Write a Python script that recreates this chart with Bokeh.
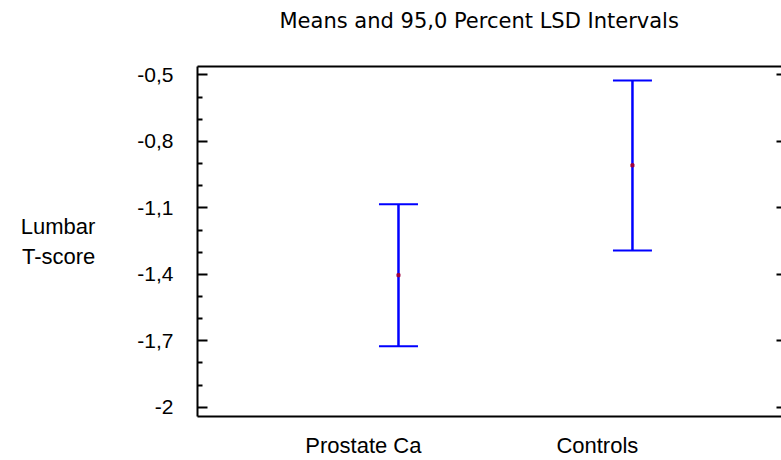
from bokeh.plotting import figure
from bokeh.models import (Whisker, TeeHead, ColumnDataSource, FixedTicker,
                          CustomJSTickFormatter, LinearAxis, Range1d)
from bokeh.embed import file_html
from bokeh.resources import INLINE

# ---- data ----
title_text = "Means and 95,0 Percent LSD Intervals"
categories = ["Prostate Ca", "Controls"]
cat_pos = [1, 2]
means = [-1.404, -0.908]
lower = [-1.725, -1.292]
upper = [-1.084, -0.525]

y_ticks = [-2.0, -1.7, -1.4, -1.1, -0.8, -0.5]
y_tick_labels = ["-2", "-1,7", "-1,4", "-1,1", "-0,8", "-0,5"]
y_minor = [-1.9, -1.8, -1.6, -1.5, -1.3, -1.2, -1.0, -0.9, -0.7, -0.6]

label_shift = -0.15  # category labels sit a bit left of the bars
label_pos = [c + label_shift for c in cat_pos]

src = ColumnDataSource(dict(x=cat_pos, mean=means, lower=lower, upper=upper))

p = figure(width=781, height=460, output_backend="svg", toolbar_location=None,
           x_range=Range1d(0.141, 2.637), y_range=Range1d(-2.042, -0.4617),
           min_border_left=197, min_border_right=0, min_border_top=66,
           min_border_bottom=0, x_axis_location=None, y_axis_location=None)
p.outline_line_color = None
p.xgrid.visible = False
p.ygrid.visible = False
p.background_fill_color = "white"
p.border_fill_color = "white"

p.title.text = title_text
p.title.align = "left"
p.title.offset = 82
p.title.text_font = "DejaVu Sans"
p.title.text_font_size = "21px"
p.title.text_font_style = "normal"
p.title.text_color = "black"
p.title.standoff = 10

# left axis
lab_js = "const i = ticks_v.findIndex(v => Math.abs(v - tick) < 1e-6); return i >= 0 ? labels[i] : '';"
yl = LinearAxis(ticker=FixedTicker(ticks=y_ticks, minor_ticks=y_minor),
                formatter=CustomJSTickFormatter(args=dict(ticks_v=y_ticks, labels=y_tick_labels), code=lab_js))
yl.axis_line_width = 2
yl.major_tick_in = 10
yl.major_tick_out = 0
yl.minor_tick_in = 5
yl.minor_tick_out = 0
yl.major_tick_line_width = 2
yl.minor_tick_line_width = 2
yl.major_label_standoff = 24
yl.major_label_text_font = "Liberation Sans"
yl.major_label_text_font_size = "21px"
yl.major_label_text_color = "black"
yl.axis_label = "Lumbar\nT-score"
yl.axis_label_orientation = "horizontal"
yl.axis_label_text_font = "Liberation Sans"
yl.axis_label_text_font_size = "22px"
yl.axis_label_text_font_style = "normal"
yl.axis_label_text_color = "black"
yl.axis_label_standoff = 39
p.add_layout(yl, "left")

# right axis (ticks only)
yr = LinearAxis(ticker=FixedTicker(ticks=y_ticks, minor_ticks=[]),
                formatter=CustomJSTickFormatter(code="return '';"))
yr.axis_line_color = None
yr.major_tick_in = 5
yr.major_tick_out = 0
yr.minor_tick_line_color = None
yr.major_tick_line_width = 2
yr.major_label_standoff = 0
yr.axis_label_standoff = 0
yr.major_label_text_font_size = "0px"
p.add_layout(yr, "right")

# top axis (border line only; blank label adds space below the title)
xt = LinearAxis(ticker=FixedTicker(ticks=[]), formatter=CustomJSTickFormatter(code="return '';"))
xt.axis_line_width = 2
xt.major_tick_line_color = None
xt.minor_tick_line_color = None
xt.major_label_standoff = 0
xt.major_label_text_font_size = "0px"
xt.axis_label = " "
xt.axis_label_text_font_size = "12px"
xt.axis_label_standoff = 12
p.add_layout(xt, "above")

# bottom axis with category labels
xb = LinearAxis(ticker=FixedTicker(ticks=label_pos, minor_ticks=[]),
                formatter=CustomJSTickFormatter(args=dict(ticks_v=label_pos, labels=categories), code=lab_js))
xb.axis_line_width = 2
xb.major_tick_line_color = None
xb.minor_tick_line_color = None
xb.major_tick_in = 0
xb.major_tick_out = 0
xb.major_label_standoff = 16
xb.major_label_text_font = "Liberation Sans"
xb.major_label_text_font_size = "22px"
xb.major_label_text_color = "black"
p.add_layout(xb, "below")

w = Whisker(source=src, base="x", lower="lower", upper="upper", dimension="height",
            line_color="#0000FF", line_width=2.5,
            lower_head=TeeHead(size=39, line_color="#0000FF", line_width=2),
            upper_head=TeeHead(size=39, line_color="#0000FF", line_width=2))
p.add_layout(w)
p.scatter("x", "mean", source=src, marker="square", size=3, color="#A0003C")

open("out.html", "w").write(file_html(p, INLINE))
